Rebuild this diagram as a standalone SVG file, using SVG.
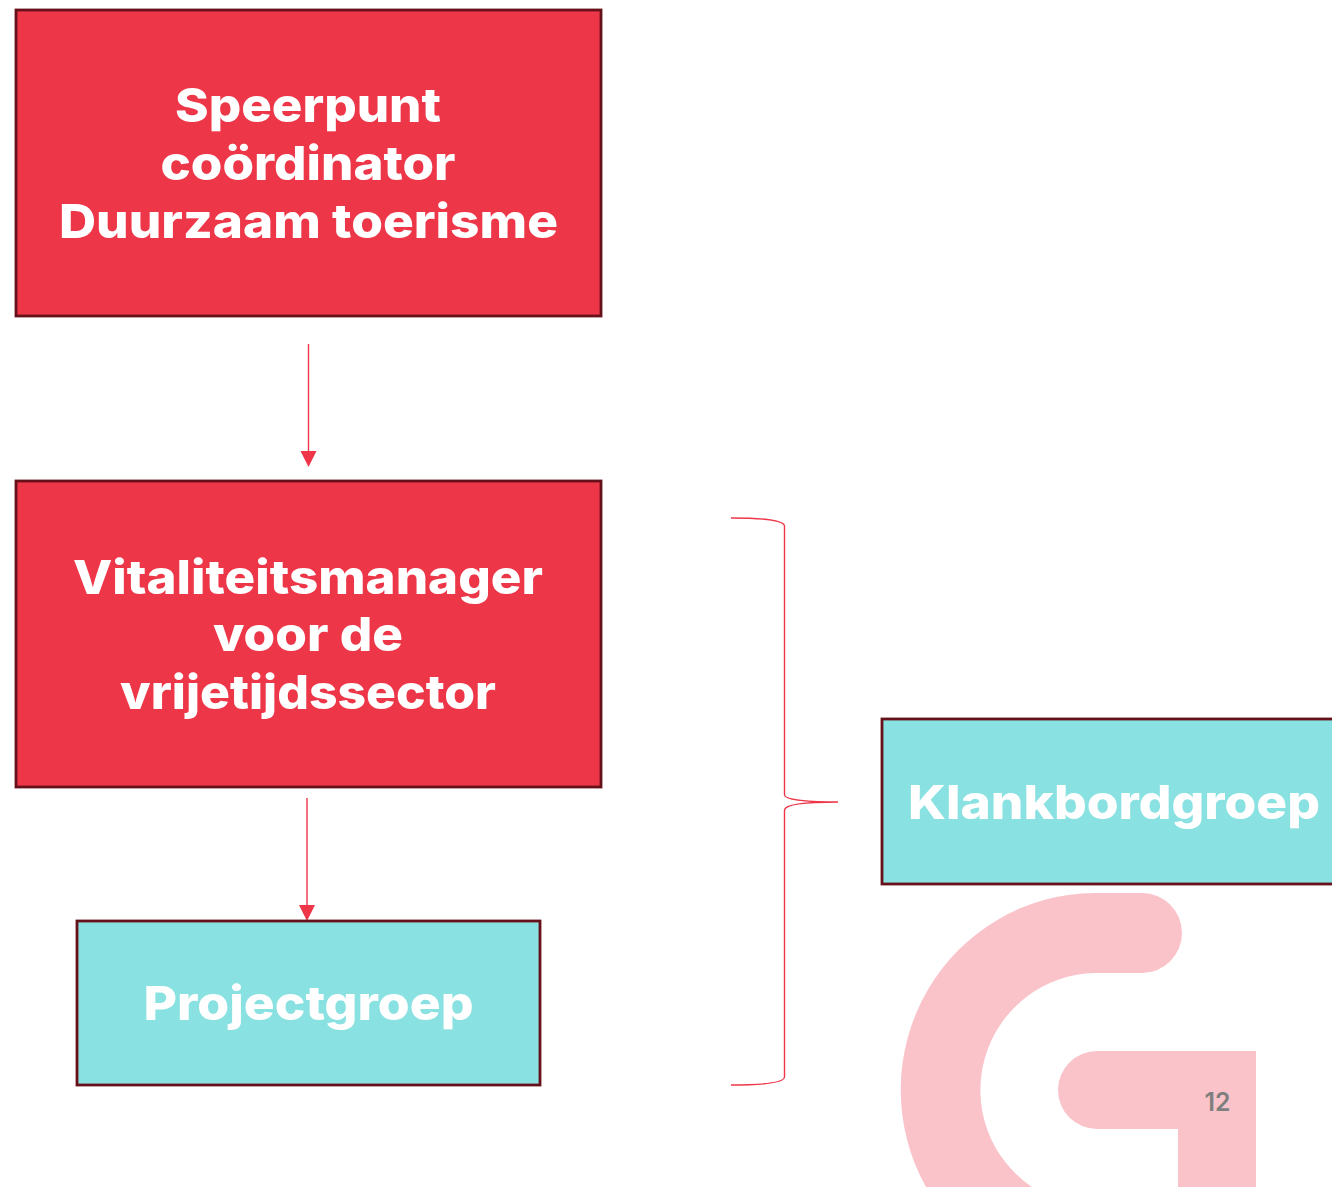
<svg xmlns="http://www.w3.org/2000/svg" width="1332" height="1187" viewBox="0 0 1332 1187">
<style>
.red{fill:#ed3648;stroke:#66101a;stroke-width:2.8}
.teal{fill:#89e1e1;stroke:#66101a;stroke-width:2.8}
.t{font-family:"Inter","Liberation Sans",sans-serif;font-weight:800;font-size:47px;fill:#fff;text-anchor:middle}
.c{fill:none;stroke:#ee3648;stroke-width:1.4}
.h{fill:#ee3648}
</style>
<rect width="1332" height="1187" fill="#fff"/>
<g id="logo">
<path fill="#fac3c9" d="M926 1187A195 197 0 0 1 1095 893H1142A40 40 0 0 1 1142 973H1095A117 117 0 0 0 1032 1187Z"/>
<path fill="#fac3c9" d="M1256 1051V1187H1178V1129H1097A39 39 0 0 1 1097 1051Z"/>
<text x="1217.500" y="1111" font-family="Inter,'Liberation Sans',sans-serif" font-weight="600" font-size="26" fill="#7f7f7f" text-anchor="middle" textLength="26" lengthAdjust="spacingAndGlyphs">12</text>
</g>
<g id="connectors">
<path class="c" d="M308.500 344V452"/>
<path class="h" d="M300.500 451H316.500L308.500 467Z"/>
<path class="c" d="M307 798V906"/>
<path class="h" d="M299 905H315L307 921Z"/>
<path class="c" d="M731 518C760 518 784 520 784.500 526V795C785 800 810 802 838 802C810 802 785 804 784.500 810V1077C784 1083 760 1085 731 1085"/>
</g>
<g id="speerpunt">
<rect class="red" x="16" y="10" width="585" height="306"/>
<text class="t" x="308" y="122" textLength="266" lengthAdjust="spacingAndGlyphs">Speerpunt</text>
<text class="t" x="308" y="180" textLength="295" lengthAdjust="spacingAndGlyphs">coördinator</text>
<text class="t" x="308.500" y="238" textLength="499" lengthAdjust="spacingAndGlyphs">Duurzaam toerisme</text>
</g>
<g id="vitaliteitsmanager">
<rect class="red" x="16" y="481" width="585" height="306"/>
<text class="t" x="308" y="594" textLength="470" lengthAdjust="spacingAndGlyphs">Vitaliteitsmanager</text>
<text class="t" x="308" y="651" textLength="190" lengthAdjust="spacingAndGlyphs">voor de</text>
<text class="t" x="308" y="709" textLength="376" lengthAdjust="spacingAndGlyphs">vrijetijdssector</text>
</g>
<g id="projectgroep">
<rect class="teal" x="77" y="921" width="463" height="164"/>
<text class="t" x="308.500" y="1020" textLength="330" lengthAdjust="spacingAndGlyphs">Projectgroep</text>
</g>
<g id="klankbordgroep">
<rect class="teal" x="882" y="719" width="460" height="165"/>
<text class="t" x="1114" y="819" textLength="412" lengthAdjust="spacingAndGlyphs">Klankbordgroep</text>
</g>
</svg>
